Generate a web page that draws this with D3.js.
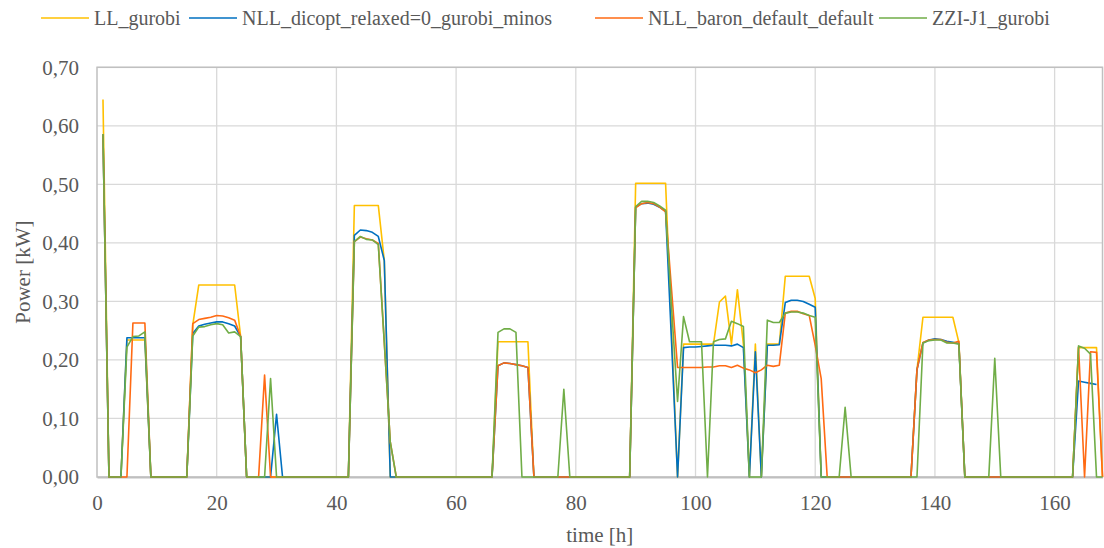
<!DOCTYPE html>
<html>
<head>
<meta charset="utf-8">
<script src="https://cdn.jsdelivr.net/npm/d3@7"></script>
<style>
  html, body { margin: 0; padding: 0; background: #fff; }
  svg { display: block; }
  text { font-family: "Liberation Serif", "Times New Roman", serif; fill: #595959; }
</style>
</head>
<body>
<svg id="chart" width="1104" height="548"></svg>
<script>
// ---------- data ----------
const seriesNames = ["LL_gurobi", "NLL_dicopt_relaxed=0_gurobi_minos", "NLL_baron_default_default", "ZZI-J1_gurobi"];
const seriesColors = ["#FFC000", "#0070C0", "#FF6A13", "#70AD47"];
const xTicks = [0, 20, 40, 60, 80, 100, 120, 140, 160];
const yTicks = [0, 0.1, 0.2, 0.3, 0.4, 0.5, 0.6, 0.7];
const hours = d3.range(1, 169); // hour index 1..168

const llGurobi = [
  0.645,0,0,0,0.234,0.234,0.234,0.234,0,0,0,0,
  0,0,0,0.26,0.328,0.328,0.328,0.328,0.328,0.328,0.328,0.24,
  0,0,0,0,0,0,0,0,0,0,0,0,
  0,0,0,0,0,0,0.464,0.464,0.464,0.464,0.464,0.37,
  0,0,0,0,0,0,0,0,0,0,0,0,
  0,0,0,0,0,0,0.231,0.231,0.231,0.231,0.231,0.231,
  0,0,0,0,0,0,0,0,0,0,0,0,
  0,0,0,0,0,0.502,0.502,0.502,0.502,0.502,0.502,0.25,
  0,0.227,0.227,0.227,0.227,0.227,0.227,0.299,0.309,0.227,0.32,0.227,
  0,0.227,0,0.227,0.227,0.227,0.343,0.343,0.343,0.343,0.343,0.305,
  0,0,0,0,0,0,0,0,0,0,0,0,
  0,0,0,0,0.183,0.273,0.273,0.273,0.273,0.273,0.273,0.23,
  0,0,0,0,0,0,0,0,0,0,0,0,
  0,0,0,0,0,0,0,0.221,0.221,0.221,0.221,0
];
const nllDicopt = [
  0.585,0,0,0,0.238,0.238,0.238,0.238,0,0,0,0,
  0,0,0,0.245,0.258,0.261,0.263,0.265,0.265,0.262,0.258,0.24,
  0,0,0,0,0,0.107,0,0,0,0,0,0,
  0,0,0,0,0,0,0.413,0.422,0.421,0.418,0.411,0.37,
  0,0,0,0,0,0,0,0,0,0,0,0,
  0,0,0,0,0,0,0.19,0.195,0.194,0.192,0.19,0.187,
  0,0,0,0,0,0,0,0,0,0,0,0,
  0,0,0,0,0,0.461,0.467,0.468,0.466,0.461,0.454,0.23,
  0,0.221,0.222,0.222,0.223,0.224,0.225,0.225,0.225,0.224,0.227,0.221,
  0,0.214,0,0.225,0.225,0.226,0.298,0.302,0.302,0.3,0.295,0.29,
  0,0,0,0,0,0,0,0,0,0,0,0,
  0,0,0,0,0.183,0.229,0.234,0.236,0.235,0.232,0.23,0.228,
  0,0,0,0,0,0,0,0,0,0,0,0,
  0,0,0,0,0,0,0,0.164,0.162,0.16,0.158,null
];
const nllBaron = [
  0.585,0,0,0,0,0.263,0.263,0.263,0,0,0,0,
  0,0,0,0.262,0.269,0.271,0.273,0.276,0.275,0.272,0.268,0.24,
  0,0,0,0.174,0,0,0,0,0,0,0,0,
  0,0,0,0,0,0,0.402,0.41,0.407,0.405,0.399,0.23,
  0.06,0,0,0,0,0,0,0,0,0,0,0,
  0,0,0,0,0,0,0.19,0.195,0.194,0.192,0.19,0.187,
  0,0,0,0,0,0,0,0,0,0,0,0,
  0,0,0,0,0,0.46,0.467,0.469,0.467,0.461,0.453,0.32,
  0.187,0.187,0.187,0.187,0.187,0.188,0.188,0.19,0.19,0.187,0.191,0.186,
  0.183,0.178,0.183,0.191,0.189,0.191,0.28,0.283,0.283,0.279,0.276,0.225,
  0.168,0,0,0,0,0,0,0,0,0,0,0,
  0,0,0,0,0.183,0.23,0.234,0.235,0.235,0.23,0.229,0.232,
  0,0,0,0,0,0,0,0,0,0,0,0,
  0,0,0,0,0,0,0,0.222,0,0.214,0.213,0
];
const zziJ1 = [
  0.586,0,0,0,0.222,0.24,0.241,0.248,0,0,0,0,
  0,0,0,0.241,0.256,0.257,0.26,0.262,0.26,0.246,0.248,0.24,
  0,0,0,0,0.168,0,0,0,0,0,0,0,
  0,0,0,0,0,0,0.402,0.411,0.406,0.405,0.397,0.23,
  0.06,0,0,0,0,0,0,0,0,0,0,0,
  0,0,0,0,0,0,0.247,0.253,0.253,0.247,0,0,
  0,0,0,0,0,0.15,0,0,0,0,0,0,
  0,0,0,0,0,0.462,0.471,0.471,0.469,0.463,0.456,0.29,
  0.129,0.274,0.231,0.231,0.231,0,0.231,0.235,0.236,0.266,0.262,0.257,
  0,0,0,0.268,0.264,0.264,0.28,0.282,0.282,0.28,0.276,0.273,
  0,0,0,0,0.119,0,0,0,0,0,0,0,
  0,0,0,0,0,0.229,0.233,0.234,0.234,0.229,0.229,0.227,
  0,0,0,0,0,0.203,0,0,0,0,0,0,
  0,0,0,0,0,0,0,0.224,0.22,0.21,0,0
];
const seriesValues = [llGurobi, nllDicopt, nllBaron, zziJ1];

// ---------- layout ----------
const svg = d3.select("#chart");
const plot = { left: 97, right: 1102.5, top: 67.3, bottom: 477 };
const x = d3.scaleLinear().domain([0, 168]).range([plot.left, plot.right]);
const y = d3.scaleLinear().domain([0, 0.7]).range([plot.bottom, plot.top]);
const locale = d3.formatLocale({ decimal: ",", thousands: ".", grouping: [3], currency: ["", ""] });
const fmt = locale.format(".2f");

// gridlines
svg.append("g").attr("class", "grid-y")
  .selectAll("line").data(yTicks.slice(1)).join("line")
  .attr("x1", plot.left).attr("x2", plot.right)
  .attr("y1", d => y(d)).attr("y2", d => y(d))
  .attr("stroke", "#D9D9D9").attr("stroke-width", 1.3);
svg.append("g").attr("class", "grid-x")
  .selectAll("line").data(xTicks.slice(1)).join("line")
  .attr("x1", d => x(d)).attr("x2", d => x(d))
  .attr("y1", plot.top).attr("y2", plot.bottom)
  .attr("stroke", "#D9D9D9").attr("stroke-width", 1.3);

// plot frame
svg.append("rect")
  .attr("x", plot.left).attr("y", plot.top)
  .attr("width", plot.right - plot.left).attr("height", plot.bottom - plot.top)
  .attr("fill", "none").attr("stroke", "#C0C0C0").attr("stroke-width", 1.5);

// axes
const xAxis = svg.append("g")
  .attr("transform", `translate(0,${plot.bottom})`)
  .call(d3.axisBottom(x).tickValues(xTicks).tickSize(0).tickPadding(18).tickFormat(d3.format("d")));
xAxis.select(".domain").attr("stroke", "#BFBFBF").attr("stroke-width", 2);
xAxis.selectAll("text").style("font-size", "21px").attr("fill", "#595959");

const yAxis = svg.append("g")
  .attr("transform", `translate(${plot.left},0)`)
  .call(d3.axisLeft(y).tickValues(yTicks).tickSize(0).tickPadding(18).tickFormat(fmt));
yAxis.select(".domain").remove();
yAxis.selectAll("text").style("font-size", "21px").attr("fill", "#595959");

// axis titles
svg.append("text")
  .attr("transform", `translate(23,${(plot.top + plot.bottom) / 2}) rotate(-90)`)
  .attr("text-anchor", "middle").attr("dominant-baseline", "central")
  .style("font-size", "21px").text("Power [kW]");
svg.append("text")
  .attr("x", (plot.left + plot.right) / 2).attr("y", 535)
  .attr("text-anchor", "middle").attr("dominant-baseline", "central")
  .style("font-size", "21px").text("time [h]");

// lines
const line = d3.line()
  .defined(d => d.v !== null)
  .x(d => x(d.h)).y(d => y(d.v));
seriesValues.forEach((vals, i) => {
  const pts = hours.map((h, k) => ({ h, v: vals[k] }));
  svg.append("path")
    .datum(pts)
    .attr("d", line)
    .attr("fill", "none")
    .attr("stroke", seriesColors[i])
    .attr("stroke-width", 1.6)
    .attr("stroke-linejoin", "round");
});

// legend
const legendX = [41, 189, 595, 879];
const legend = svg.append("g").attr("class", "legend");
const ly = 18;
seriesNames.forEach((name, i) => {
  const lx = legendX[i];
  legend.append("line")
    .attr("x1", lx).attr("x2", lx + 48).attr("y1", ly).attr("y2", ly)
    .attr("stroke", seriesColors[i]).attr("stroke-width", 1.6);
  legend.append("text")
    .attr("x", lx + 53).attr("y", ly)
    .attr("dominant-baseline", "central")
    .style("font-size", "20px").text(name);
});
</script>
</body>
</html>
